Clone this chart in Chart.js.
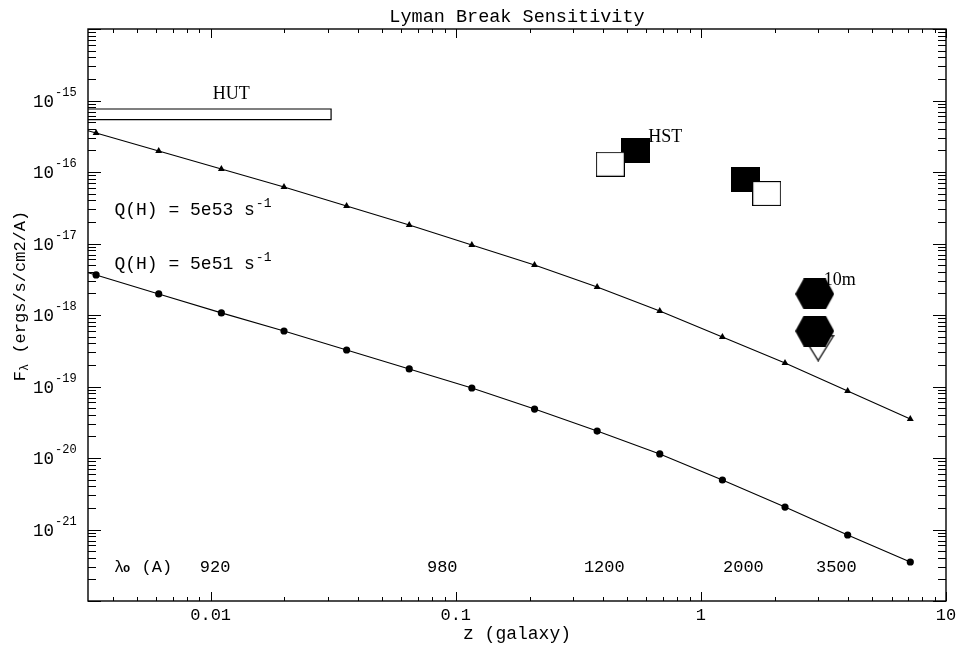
<!DOCTYPE html>
<html>
<head>
<meta charset="utf-8">
<script src="https://cdn.jsdelivr.net/npm/chart.js@4.4.1/dist/chart.umd.min.js"></script>
<style>
  html, body { margin: 0; background: #fff; }
</style>
</head>
<body>
<canvas id="c" width="965" height="650"></canvas>
<script>
// sampled redshifts where the model points sit
const zSample = [0.00341, 0.00614, 0.01106, 0.01992, 0.03587, 0.0646, 0.1163, 0.2096, 0.3774, 0.6796, 1.224, 2.204, 3.97, 7.15];
// model flux for Q(H) = 5e53 (triangles) and 5e51 (circles)
const fluxQ53 = [3.51e-16, 1.97e-16, 1.10e-16, 6.17e-17, 3.35e-17, 1.81e-17, 9.53e-18, 5.0e-18, 2.46e-18, 1.14e-18, 4.92e-19, 2.13e-19, 8.65e-20, 3.51e-20];
const fluxQ51 = [3.63e-18, 1.97e-18, 1.07e-18, 5.97e-19, 3.24e-19, 1.76e-19, 9.53e-20, 4.84e-20, 2.38e-20, 1.14e-20, 4.92e-21, 2.06e-21, 8.38e-22, 3.51e-22];
// the curves run on to the left edge of the frame
const zEdge = 0.00316;
const edgeQ53 = 3.78e-16;
const edgeQ51 = 3.9e-18;

// HUT limit box
const hutZ = [0.003, 0.031];
const hutFlux = [5.4e-16, 7.6e-16];
// HST limits (open and filled squares)
const hstOpenZ = [0.427, 1.856];
const hstOpenFlux = [1.285e-16, 5.0e-17];
const hstFilledZ = [0.542, 1.524];
const hstFilledFlux = [1.97e-16, 7.9e-17];
// 10m telescope limits
const tenmHexZ = [2.914, 2.914];
const tenmHexFlux = [1.97e-18, 5.97e-19];
const tenmTriZ = [3.01];
const tenmTriFlux = [3.45e-19];

// rest wavelength row
const lambdaLabels = ['920', '980', '1200', '2000', '3500'];
const lambdaZ = [0.01043, 0.0881, 0.4036, 1.491, 3.57];
const lambdaRowZ = 0.00403;
const lambdaRowFlux = 2.55e-22;

// axis ticks
const xTickValues = [0.01, 0.1, 1, 10];
const xTickLabels = ['0.01', '0.1', '1', '10'];
const yTickExp = [-21, -20, -19, -18, -17, -16, -15];

// text labels placed in data space
const qLabels = ['Q(H) = 5e53 s', 'Q(H) = 5e51 s'];
const qLabelZ = 0.00405;
const qLabelFlux = [2.5e-17, 4.36e-18];
const tagText = ['HUT', 'HST', '10m'];
const tagZ = [0.01213, 0.6105, 3.17];
const tagFlux = [1.04e-15, 2.63e-16, 2.63e-18];
const tagAlign = ['center', 'left', 'left'];

const MONO = '"Liberation Mono", "DejaVu Sans Mono", monospace';
const SERIF = '"Liberation Serif", "DejaVu Serif", serif';

function pts(xs, ys) {
    return xs.map((v, i) => ({ x: v, y: ys[i] }));
}

function makeSprite(w, h, draw) {
    const c = document.createElement('canvas');
    c.width = w;
    c.height = h;
    draw(c.getContext('2d'), w, h);
    return c;
}

const openSquare = makeSprite(29, 25, (g, w, h) => {
    g.fillStyle = '#fff';
    g.fillRect(0, 0, w, h);
    g.strokeStyle = '#000';
    g.lineWidth = 1.2;
    g.strokeRect(0.5, 0.5, w - 1, h - 1);
});
const filledSquare = makeSprite(29, 25, (g, w, h) => {
    g.fillStyle = '#000';
    g.fillRect(0, 0, w, h);
});
const hexagon = makeSprite(39, 31, (g, w, h) => {
    g.fillStyle = '#000';
    g.beginPath();
    g.moveTo(0, h / 2);
    g.lineTo(8.5, 0);
    g.lineTo(w - 8.5, 0);
    g.lineTo(w, h / 2);
    g.lineTo(w - 8.5, h);
    g.lineTo(8.5, h);
    g.closePath();
    g.fill();
});
const downTriangle = makeSprite(33, 27, (g, w, h) => {
    g.strokeStyle = '#000';
    g.lineWidth = 1.3;
    g.beginPath();
    g.moveTo(1, 1);
    g.lineTo(w - 1, 1);
    g.lineTo(w / 2, h - 1);
    g.closePath();
    g.stroke();
});

// text with a raised (or lowered) small part
function drawParts(ctx, parts, x, y) {
    let cx = x;
    parts.forEach(p => {
        ctx.font = p.font;
        ctx.fillText(p.t, cx, y + (p.dy || 0));
        cx += ctx.measureText(p.t).width + (p.gap || 0);
    });
}
function partsWidth(ctx, parts) {
    let w = 0;
    parts.forEach(p => {
        ctx.font = p.font;
        w += ctx.measureText(p.t).width + (p.gap || 0);
    });
    return w;
}

const pgFrame = {
    id: 'pgFrame',
    afterDraw(chart) {
        const { ctx, chartArea: a, scales: { x, y } } = chart;
        ctx.save();
        ctx.fillStyle = '#000';
        ctx.strokeStyle = '#000';

        // ticks on all four sides, pointing inward
        ctx.lineWidth = 1;
        ctx.beginPath();
        for (let e = -3; e <= 1; e++) {
            for (let k = 1; k <= 9; k++) {
                const v = k * Math.pow(10, e);
                if (v < x.min * 0.999 || v > x.max * 1.001) continue;
                const px = Math.round(x.getPixelForValue(v)) + 0.5;
                const len = k === 1 ? 9 : 4;
                ctx.moveTo(px, a.bottom); ctx.lineTo(px, a.bottom - len);
                ctx.moveTo(px, a.top); ctx.lineTo(px, a.top + len);
            }
        }
        for (let e = -22; e <= -14; e++) {
            for (let k = 1; k <= 9; k++) {
                const v = k * Math.pow(10, e);
                if (v < y.min * 0.999 || v > y.max * 1.001) continue;
                const py = Math.round(y.getPixelForValue(v)) + 0.5;
                const len = k === 1 ? 13 : 8;
                ctx.moveTo(a.left, py); ctx.lineTo(a.left + len, py);
                ctx.moveTo(a.right, py); ctx.lineTo(a.right - len, py);
            }
        }
        ctx.stroke();

        ctx.lineWidth = 1.4;
        ctx.strokeRect(a.left, a.top, a.right - a.left, a.bottom - a.top);

        // x tick labels
        ctx.font = '17px ' + MONO;
        ctx.textAlign = 'center';
        ctx.textBaseline = 'alphabetic';
        xTickValues.forEach((v, i) => {
            ctx.fillText(xTickLabels[i], x.getPixelForValue(v), 620);
        });

        // y tick labels as 10^n
        yTickExp.forEach(e => {
            const py = y.getPixelForValue(Math.pow(10, e));
            ctx.textAlign = 'right';
            ctx.font = '17.5px ' + MONO;
            ctx.fillText('10', 54, py + 6);
            ctx.textAlign = 'left';
            ctx.font = '12px ' + MONO;
            ctx.fillText('-' + Math.abs(e), 55, py - 5);
        });

        // title and axis titles
        ctx.textAlign = 'center';
        ctx.font = '18.5px ' + MONO;
        ctx.fillText('Lyman Break Sensitivity', (a.left + a.right) / 2, 22);
        ctx.font = '18px ' + MONO;
        ctx.fillText('z (galaxy)', (a.left + a.right) / 2, 639);

        ctx.textAlign = 'left';
        const yParts = [
            { t: 'F', font: '17px ' + MONO },
            { t: 'λ', font: '12px ' + MONO, dy: 3 },
            { t: ' (ergs/s/cm2/A)', font: '17px ' + MONO }
        ];
        ctx.save();
        ctx.translate(25, 296);
        ctx.rotate(-Math.PI / 2);
        drawParts(ctx, yParts, -partsWidth(ctx, yParts) / 2, 0);
        ctx.restore();

        // Q(H) labels
        qLabels.forEach((t, i) => {
            drawParts(ctx, [
                { t: t, font: '18px ' + MONO, gap: 1 },
                { t: '-1', font: '13px ' + MONO, dy: -8 }
            ], x.getPixelForValue(qLabelZ), y.getPixelForValue(qLabelFlux[i]));
        });

        // rest wavelength row
        const rowY = y.getPixelForValue(lambdaRowFlux);
        drawParts(ctx, [
            { t: 'λ', font: '17px ' + MONO, gap: -1 },
            { t: 'o', font: 'bold 12px ' + MONO, dy: 0, gap: 1 },
            { t: ' (A)', font: '17px ' + MONO }
        ], x.getPixelForValue(lambdaRowZ), rowY);
        ctx.textAlign = 'center';
        ctx.font = '17px ' + MONO;
        lambdaLabels.forEach((t, i) => {
            ctx.fillText(t, x.getPixelForValue(lambdaZ[i]), rowY);
        });

        // instrument tags
        ctx.font = '18px ' + SERIF;
        tagText.forEach((t, i) => {
            ctx.textAlign = tagAlign[i];
            ctx.fillText(t, x.getPixelForValue(tagZ[i]), y.getPixelForValue(tagFlux[i]));
        });

        ctx.restore();
    }
};

const hutBox = [
    { x: hutZ[0], y: hutFlux[0] }, { x: hutZ[1], y: hutFlux[0] },
    { x: hutZ[1], y: hutFlux[1] }, { x: hutZ[0], y: hutFlux[1] },
    { x: hutZ[0], y: hutFlux[0] }
];

const radii = r => [0].concat(zSample.map(() => r));

new Chart(document.getElementById('c'), {
    type: 'scatter',
    data: {
        datasets: [
            {
                label: 'Q(H) = 5e53',
                data: [{ x: zEdge, y: edgeQ53 }].concat(pts(zSample, fluxQ53)),
                showLine: true,
                borderColor: '#000',
                borderWidth: 1.1,
                backgroundColor: '#000',
                pointStyle: 'triangle',
                pointRadius: radii(4),
                pointBorderWidth: 0
            },
            {
                label: 'Q(H) = 5e51',
                data: [{ x: zEdge, y: edgeQ51 }].concat(pts(zSample, fluxQ51)),
                showLine: true,
                borderColor: '#000',
                borderWidth: 1.1,
                backgroundColor: '#000',
                pointStyle: 'circle',
                pointRadius: radii(3.6),
                pointBorderWidth: 0
            },
            {
                label: 'HUT',
                data: hutBox,
                showLine: true,
                borderColor: '#000',
                borderWidth: 1.2,
                pointRadius: 0
            },
            {
                label: 'HST open',
                data: pts(hstOpenZ, hstOpenFlux),
                pointStyle: openSquare
            },
            {
                label: 'HST filled',
                data: pts(hstFilledZ, hstFilledFlux),
                pointStyle: filledSquare
            },
            {
                label: '10m open',
                data: pts(tenmTriZ, tenmTriFlux),
                pointStyle: downTriangle
            },
            {
                label: '10m filled',
                data: pts(tenmHexZ, tenmHexFlux),
                pointStyle: hexagon
            }
        ]
    },
    options: {
        responsive: false,
        animation: false,
        layout: { padding: { left: 88, right: 19, top: 29, bottom: 49 } },
        scales: {
            x: { type: 'logarithmic', min: 0.00316, max: 10, display: false },
            y: { type: 'logarithmic', min: 1e-22, max: 1e-14, display: false }
        },
        plugins: {
            legend: { display: false },
            tooltip: { enabled: false }
        }
    },
    plugins: [pgFrame]
});
</script>
</body>
</html>
